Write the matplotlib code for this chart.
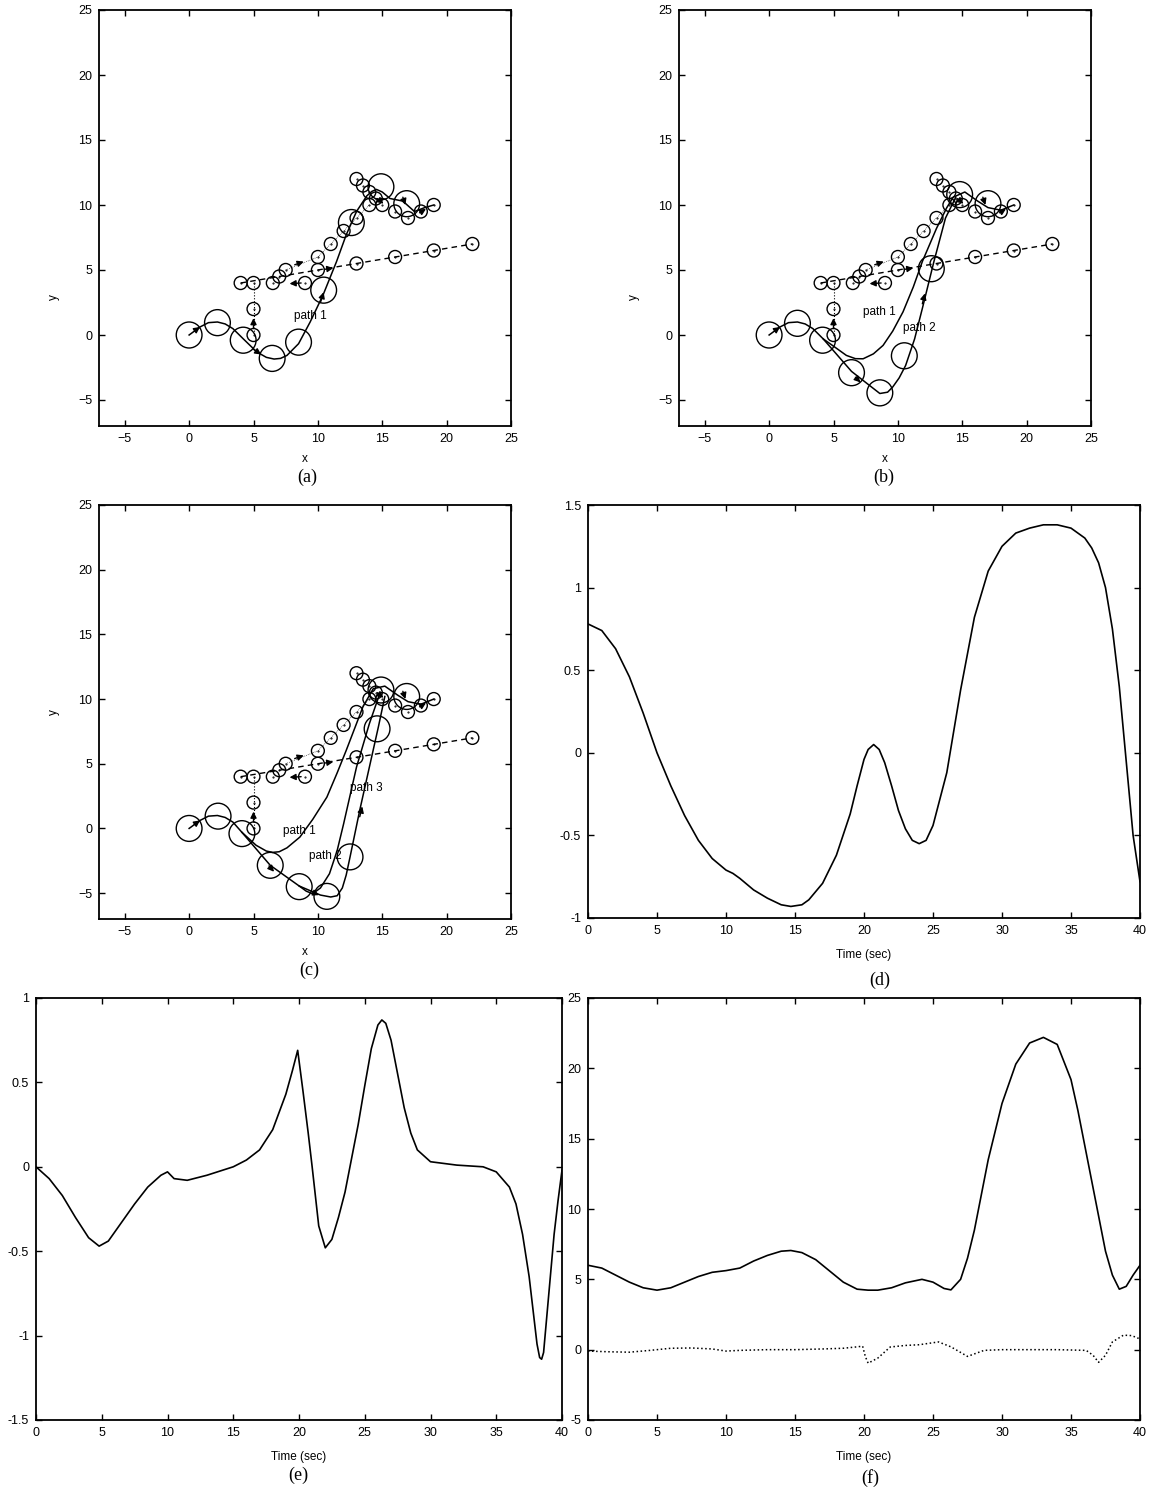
import numpy as np
import matplotlib.pyplot as plt
from matplotlib.patches import Circle

plt.rcParams['font.family'] = ['Liberation Sans', 'DejaVu Sans']

W, H = 1149, 1499

# ---------------- trajectory panels: shared markers ----------------
small_x = [4, 5, 6.5, 7, 7.5, 9, 10, 10, 11, 12, 13, 13, 13.5, 14, 14.5, 14, 15, 16, 17, 18, 19, 5, 5,
           13, 16, 19, 22]
small_y = [4, 4, 4, 4.5, 5, 4, 5, 6, 7, 8, 9, 12, 11.5, 11, 10.5, 10, 10, 9.5, 9, 9.5, 10, 2, 0,
           5.5, 6, 6.5, 7]
dash_x = [4, 10, 13, 16, 19, 22]
dash_y = [4, 5, 5.5, 6, 6.5, 7]
dot_x = [5, 5]
dot_y = [4, 0]
chain_x = [7.5, 10, 11, 12, 13, 14]
chain_y = [5, 6, 7, 8, 9, 10]
# arrows shared by all panels: (tail_x, tail_y, head_x, head_y)
common_arrows = [(10.5, 5.05, 11.2, 5.15), (8.7, 4.0, 7.8, 3.95), (8.2, 5.4, 8.9, 5.65),
                 (5.0, 0.5, 5.0, 1.3), (14.6, 10.5, 15.1, 10.1), (16.6, 10.6, 16.8, 10.0),
                 (17.9, 9.4, 18.4, 9.7), (0.4, 0.3, 0.85, 0.62)]

# ---------------- panel (a) ----------------
big_a_x = [0, 2.2, 4.2, 6.45, 8.5, 10.45, 12.6, 14.9, 16.9]
big_a_y = [0, 0.95, -0.4, -1.8, -0.55, 3.45, 8.65, 11.4, 10.1]
path1_a_x = [0, 0.85, 1.5, 2.2, 2.8, 3.4, 4.2, 5.25, 6.0, 6.6, 7.1, 7.6, 8.5, 9.4, 10.4, 11.45,
             12.2, 13.0, 13.8, 14.2, 14.55, 15.0, 15.6, 16.6, 17.5, 18.3, 19.0]
path1_a_y = [0, 0.62, 0.95, 1.0, 0.85, 0.49, -0.29, -1.3, -1.72, -1.85, -1.8, -1.57, -0.67, 1.0,
             3.07, 5.65, 7.7, 9.5, 10.7, 11.05, 11.2, 11.0, 10.5, 10.3, 9.5, 9.8, 10.0]
arrows_a = [(5.0, -1.1, 5.6, -1.5), (10.2, 2.5, 10.45, 3.3)]
labels_a = [("path 1", 9.4, 1.5)]

# ---------------- panel (b) ----------------
big_b_x = [0, 2.2, 4.15, 6.4, 8.6, 10.5, 12.6, 14.8, 17.0]
big_b_y = [0, 0.9, -0.4, -2.9, -4.45, -1.6, 5.1, 10.8, 10.1]
path1_b_x = [0, 0.85, 1.5, 2.2, 2.8, 3.4, 4.2, 5.2, 6.0, 6.7, 7.3, 8.1, 8.85, 9.6, 10.4, 11.2,
             11.9, 13.0, 13.8, 14.3, 15.2, 16.2, 17.0, 18.0, 19.0]
path1_b_y = [0, 0.62, 0.95, 1.0, 0.85, 0.49, -0.3, -1.0, -1.57, -1.82, -1.83, -1.45, -0.8, 0.3,
             1.78, 3.7, 5.65, 8.2, 9.8, 10.6, 11.0, 10.3, 9.8, 9.6, 10.0]
path2_b_x = [4.2, 6.4, 8.6, 9.2, 9.6, 10.1, 10.6, 11.3, 11.9, 12.8, 13.7, 14.5]
path2_b_y = [-0.3, -2.8, -4.5, -4.4, -4.0, -3.3, -2.35, -0.3, 2.04, 5.65, 9.0, 10.6]
arrows_b = [(6.7, -3.25, 7.1, -3.65), (11.9, 2.4, 12.1, 3.2)]
labels_b = [("path 1", 8.6, 1.8), ("path 2", 11.7, 0.5)]

# ---------------- panel (c) ----------------
big_c_x = [0, 2.25, 4.1, 6.3, 8.55, 10.7, 12.5, 14.6, 14.9, 16.9]
big_c_y = [0, 0.95, -0.4, -2.85, -4.5, -5.25, -2.2, 7.7, 10.7, 10.2]
path1_c_x = [0, 0.85, 1.5, 2.2, 2.8, 3.4, 4.1, 5.2, 6.0, 6.5, 7.0, 7.6, 8.6, 9.6, 10.7, 11.5,
             12.2, 13.5, 14.3, 15.2, 16.2, 17.0, 18.0, 19.0]
path1_c_y = [0, 0.62, 0.95, 1.0, 0.85, 0.49, -0.3, -1.3, -1.75, -1.85, -1.8, -1.5, -0.67, 0.7,
             2.42, 4.3, 6.03, 9.4, 10.8, 11.0, 10.3, 9.8, 9.6, 10.0]
path2_c_x = [4.1, 6.3, 8.55, 9.1, 9.6, 10.2, 10.9, 11.5, 12.0, 13.0, 14.0, 14.8]
path2_c_y = [-0.3, -2.85, -4.45, -4.85, -5.05, -4.6, -3.5, -1.7, 0.36, 4.74, 8.1, 10.4]
path3_c_x = [8.55, 10.2, 11.0, 11.5, 11.9, 12.2, 12.5, 13.25, 14.0, 14.7, 15.2]
path3_c_y = [-4.45, -5.15, -5.3, -5.2, -4.6, -3.6, -2.2, 1.4, 4.74, 7.85, 10.2]
arrows_c = [(6.2, -2.9, 6.6, -3.35), (9.6, -4.95, 10.1, -5.15), (13.25, 0.9, 13.45, 1.7)]
labels_c = [("path 1", 8.6, -0.2), ("path 2", 10.6, -2.1), ("path 3", 13.8, 3.1)]

# ---------------- panel (d) ----------------
t_d = [0, 1, 2, 3, 4, 5, 6, 7, 8, 9, 10, 10.5, 11, 12, 13, 14, 14.7, 15.5, 16, 17, 18, 19, 19.5,
       20, 20.3, 20.7, 21.1, 21.5, 22, 22.5, 23, 23.5, 24, 24.5, 25, 26, 27, 28, 29, 30, 31, 32,
       33, 34, 35, 36, 36.5, 37, 37.5, 38, 38.5, 39, 39.5, 40]
v_d = [0.78, 0.74, 0.63, 0.46, 0.24, 0.0, -0.2, -0.38, -0.53, -0.64, -0.71, -0.73, -0.76, -0.83,
       -0.88, -0.92, -0.93, -0.92, -0.89, -0.79, -0.62, -0.37, -0.2, -0.04, 0.02, 0.05, 0.02,
       -0.06, -0.2, -0.35, -0.46, -0.53, -0.55, -0.53, -0.44, -0.12, 0.38, 0.82, 1.1, 1.25, 1.33,
       1.36, 1.38, 1.38, 1.36, 1.3, 1.24, 1.15, 1.0, 0.75, 0.4, -0.05, -0.5, -0.78]

# ---------------- panel (e) ----------------
t_e = [0, 1, 2, 3, 4, 4.8, 5.5, 6.5, 7.5, 8.5, 9.5, 10, 10.5, 11.5, 13, 15, 16, 17, 18, 19,
       19.5, 19.9, 20.3, 20.7, 21, 21.5, 22, 22.5, 23, 23.5, 24.5, 25, 25.5, 26, 26.3, 26.6,
       27, 27.5, 28, 28.5, 29, 30, 32, 34, 35, 36, 36.5, 37, 37.5, 37.8, 38.1, 38.3, 38.45,
       38.6, 39, 39.4, 39.7, 40]
v_e = [0.0, -0.07, -0.17, -0.3, -0.42, -0.47, -0.44, -0.33, -0.22, -0.12, -0.05, -0.03, -0.07,
       -0.08, -0.05, 0.0, 0.04, 0.1, 0.22, 0.43, 0.57, 0.69, 0.45, 0.2, 0.0, -0.35, -0.48, -0.43,
       -0.3, -0.15, 0.25, 0.48, 0.7, 0.84, 0.87, 0.85, 0.75, 0.55, 0.35, 0.2, 0.1, 0.03, 0.01,
       0.0, -0.03, -0.12, -0.22, -0.4, -0.65, -0.85, -1.05, -1.13, -1.14, -1.1, -0.75, -0.4,
       -0.2, -0.02]

# ---------------- panel (f) ----------------
t_f = [0, 1, 2, 3, 4, 5, 6, 7, 8, 9, 10, 11, 12, 13, 14, 14.7, 15.5, 16.5, 17.5, 18.5, 19.5,
       20.3, 21, 22, 23, 24.2, 25, 25.8, 26.3, 27, 27.5, 28, 28.5, 29, 30, 31, 32, 33, 34, 35,
       35.5, 36, 36.5, 37, 37.5, 38, 38.5, 39, 39.5, 40]
v_f = [6.0, 5.8, 5.3, 4.8, 4.4, 4.23, 4.4, 4.8, 5.2, 5.5, 5.62, 5.8, 6.3, 6.7, 7.0, 7.05, 6.9,
       6.4, 5.6, 4.8, 4.3, 4.23, 4.23, 4.4, 4.75, 5.0, 4.8, 4.35, 4.25, 5.0, 6.5, 8.5, 11.0, 13.5,
       17.5, 20.3, 21.8, 22.2, 21.7, 19.2, 17.0, 14.5, 12.0, 9.5, 7.0, 5.3, 4.3, 4.5, 5.3, 6.0]
t_f2 = [0, 1.5, 3, 4.5, 6, 7.5, 9, 10, 11, 13, 15, 17, 18.5, 19.5, 19.9, 20.1, 20.3, 21, 21.9, 23,
        24, 25.4, 26.3, 27.5, 28.7, 30, 32, 34, 36.1, 36.6, 37, 37.5, 38, 38.8, 39.4, 39.9]
v_f2 = [-0.1, -0.15, -0.18, -0.05, 0.1, 0.12, 0.05, -0.1, -0.05, 0.0, 0.0, 0.05, 0.1, 0.2, 0.25,
        -0.5, -0.96, -0.6, 0.19, 0.3, 0.35, 0.55, 0.2, -0.48, -0.05, 0.0, 0.0, 0.0, -0.05, -0.4,
        -0.9, -0.4, 0.55, 1.03, 1.0, 0.8]


def ax_at(left, top, right, bottom):
    return fig.add_axes([left / W, 1 - bottom / H, (right - left) / W, (bottom - top) / H])


def style(ax):
    ax.tick_params(direction='in', top=True, right=True, length=4, width=1, labelsize=9, pad=5)
    for s in ax.spines.values():
        s.set_linewidth(1.3)


def arrow(ax, a):
    ax.annotate('', xy=(a[2], a[3]), xytext=(a[0], a[1]),
                arrowprops=dict(arrowstyle='-|>', color='k', lw=1, mutation_scale=9,
                                shrinkA=0, shrinkB=0))


def trajectory(ax, big_x, big_y, paths, arrows, labels, ylab_y):
    ax.plot(dash_x, dash_y, 'k--', lw=1, dashes=(4, 3))
    ax.plot(dot_x, dot_y, 'k:', lw=0.8)
    ax.plot(chain_x, chain_y, 'k:', lw=0.5)
    for x, y in zip(small_x, small_y):
        ax.add_patch(Circle((x, y), 0.5, fill=False, ec='k', lw=1))
    ax.plot(small_x, small_y, 'k.', ms=1)
    for x, y in zip(big_x, big_y):
        ax.add_patch(Circle((x, y), 1.0, fill=False, ec='k', lw=1))
    for px, py in paths:
        ax.plot(px, py, 'k-', lw=1.1)
    for a in common_arrows + arrows:
        arrow(ax, a)
    for txt, x, y in labels:
        ax.text(x, y, txt, fontsize=8.5, ha='center', va='center')
    ax.set_xlim(-7, 25)
    ax.set_ylim(-7, 25)
    ax.set_xticks(range(-5, 26, 5))
    ax.set_yticks(range(-5, 26, 5))
    ax.set_xlabel('x', fontsize=8.5, labelpad=6)
    ax.set_ylabel('y', fontsize=8.5, rotation=90)
    ax.yaxis.set_label_coords(-0.095, ylab_y)
    style(ax)


def series(ax, ymin, ymax, yticks):
    ax.set_xlim(0, 40)
    ax.set_ylim(ymin, ymax)
    ax.set_xticks(range(0, 41, 5))
    ax.set_yticks(yticks)
    ax.set_yticklabels(['%g' % v for v in yticks])
    ax.set_xlabel('Time (sec)', fontsize=8.5, labelpad=9)
    style(ax)


fig = plt.figure(figsize=(W / 100, H / 100), dpi=100)

ax = ax_at(99, 10, 511, 426)
trajectory(ax, big_a_x, big_a_y, [(path1_a_x, path1_a_y)], arrows_a, labels_a, 0.31)

ax = ax_at(679, 10, 1091, 426)
trajectory(ax, big_b_x, big_b_y, [(path1_b_x, path1_b_y), (path2_b_x, path2_b_y)], arrows_b,
           labels_b, 0.31)

ax = ax_at(99, 505, 511, 919)
trajectory(ax, big_c_x, big_c_y,
           [(path1_c_x, path1_c_y), (path2_c_x, path2_c_y), (path3_c_x, path3_c_y)], arrows_c,
           labels_c, 0.5)

ax = ax_at(588, 505, 1140, 918)
ax.plot(t_d, v_d, 'k-', lw=1.2)
series(ax, -1, 1.5, [-1, -0.5, 0, 0.5, 1, 1.5])

ax = ax_at(36, 998, 562, 1420)
ax.plot(t_e, v_e, 'k-', lw=1.2)
series(ax, -1.5, 1, [-1.5, -1, -0.5, 0, 0.5, 1])

ax = ax_at(588, 998, 1140, 1420)
ax.plot(t_f, v_f, 'k-', lw=1.2)
ax.plot(t_f2, v_f2, 'k:', lw=1.1)
series(ax, -5, 25, [-5, 0, 5, 10, 15, 20, 25])

for txt, x, y in [('(a)', 307, 477), ('(b)', 884, 477), ('(c)', 309, 970),
                  ('(d)', 880, 980), ('(e)', 298, 1475), ('(f)', 870, 1478)]:
    fig.text(x / W, 1 - y / H, txt, fontsize=13, family='Liberation Serif', ha='center', va='center')

fig.savefig('out.png', dpi=100)
